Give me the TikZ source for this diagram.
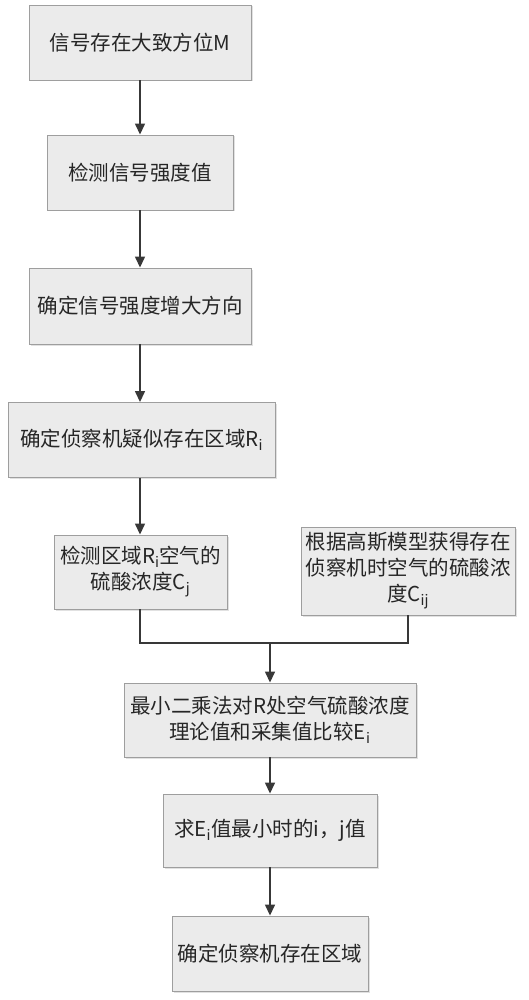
\documentclass[tikz,border=0pt]{standalone}
\usepackage{fontspec}
\setmainfont{Noto Sans CJK SC}
\usetikzlibrary{arrows.meta,shadows}
\newcommand{\sbs}[1]{\textsubscript{#1}}
\begin{document}
\begin{tikzpicture}[x=1pt,y=1pt,
  box/.style={draw=black!38, line width=0.9pt, fill=black!8, align=center,
    font=\fontsize{20.5}{26}\selectfont, text=black!85, inner sep=2pt,
    drop shadow={shadow xshift=1.5pt, shadow yshift=-1.5pt, fill=black!15, opacity=0.8}},
  arr/.style={draw=black!78, line width=1.4pt, -{Triangle[length=11pt,width=10pt]}},
  ln/.style={draw=black!78, line width=1.4pt}]
\useasboundingbox (0,0) rectangle (528,-1000);
\node[box, minimum width=222pt, minimum height=75pt] (b1) at (140,-42.5) {信号存在大致方位M};
\node[box, minimum width=186pt, minimum height=75pt] (b2) at (140,-172.5) {检测信号强度值};
\node[box, minimum width=222pt, minimum height=76pt] (b3) at (140,-306) {确定信号强度增大方向};
\node[box, minimum width=267pt, minimum height=75pt] (b4) at (141.5,-440) {确定侦察机疑似存在区域R\sbs{i}};
\node[box, minimum width=173pt, minimum height=74pt] (b5) at (140.5,-572) {检测区域R\sbs{i}空气的\\硫酸浓度C\sbs{j}};
\node[box, minimum width=214pt, minimum height=88pt] (b6) at (408,-571) {根据高斯模型获得存在\\侦察机时空气的硫酸浓\\度C\sbs{ij}};
\node[box, minimum width=292pt, minimum height=74pt] (b7) at (270,-720) {最小二乘法对R处空气硫酸浓度\\理论值和采集值比较E\sbs{i}};
\node[box, minimum width=214pt, minimum height=73pt] (b8) at (270,-830.5) {求E\sbs{i}值最小时的i，j值};
\node[box, minimum width=196pt, minimum height=75pt] (b9) at (270,-953.5) {确定侦察机存在区域};
\coordinate (j) at (270,-643);
\draw[arr] (b1.south) -- (b2.north);
\draw[arr] (b2.south) -- (b3.north);
\draw[arr] (b3.south) -- (b3.south |- b4.north);
\draw[arr] (b3.south |- b4.south) -- (b3.south |- b5.north);
\draw[ln] (b3.south |- b5.south) |- (j) -| (b6.south);
\draw[arr] (j) -- (b7.north);
\draw[arr] (b7.south) -- (b8.north);
\draw[arr] (b8.south) -- (b9.north);
\end{tikzpicture}
\end{document}
